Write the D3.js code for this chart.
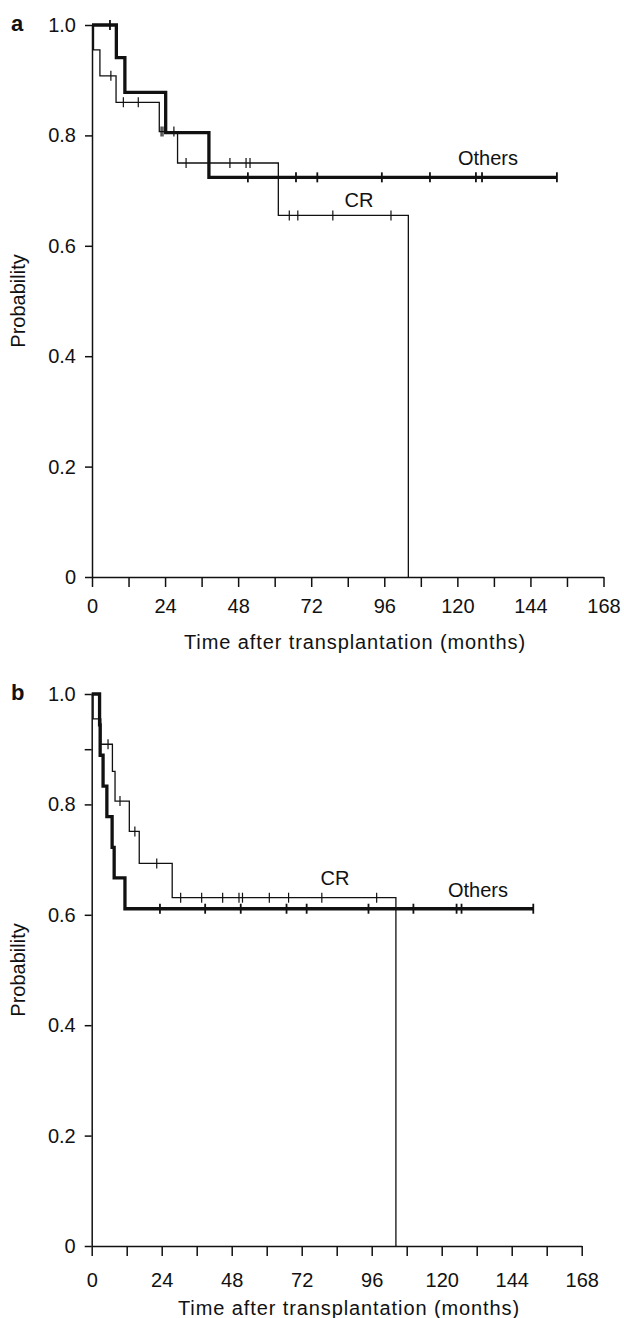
<!DOCTYPE html>
<html>
	<head>
		<meta http-equiv='Content-Type' content='text/html;charset=utf-8'/>
		<style>
		body {
			margin: 0;
			background: #ffffff;
		}
		svg {
			display: block;
			font-family: 'Liberation Sans', Arial, sans-serif;
		}
		.axis path, .axis line {
			fill: none;
			stroke: #111111;
			stroke-width: 1.5px;
		}
		.axis text {
			font-size: 20px;
			fill: #111111;
		}
		.label {
			font-size: 20px;
			fill: #111111;
		}
		.thin {
			fill: none;
			stroke: #111111;
			stroke-width: 1.3px;
		}
		.thick {
			fill: none;
			stroke: #111111;
			stroke-width: 3.3px;
		}
		</style>
	</head>

	<body>
	<script src='https://d3js.org/d3.v7.min.js'></script>

	<script>
	'use strict';

	// shared axis ticks
	const xTicks = [0, 12, 24, 36, 48, 60, 72, 84, 96, 108, 120, 132, 144, 156, 168];
	const yTicks = [0, 0.2, 0.4, 0.6, 0.8, 1.0];
	const yTicksB = [0, 0.2, 0.4, 0.6, 0.8, 0.9, 1.0];

	// panel a, CR (thin)
	const aCrTimes = [0, 0.5, 2.6, 7.9, 22.1, 28.1, 61.2, 103.9];
	const aCrSurv = [1.0, 0.955, 0.908, 0.860, 0.807, 0.750, 0.655, 0];
	const aCrCensor = [6.2, 10.3, 15.2, 22.7, 23.3, 26.9, 30.9, 45.3, 50.6, 51.9, 64.8, 67.6, 79.1, 98.2];

	// panel a, Others (thick)
	const aOtTimes = [0, 8.0, 10.8, 24.2, 38.4];
	const aOtSurv = [1.0, 0.941, 0.878, 0.805, 0.724];
	const aOtEnd = 152.7;
	const aOtCensor = [5.9, 51.2, 67, 74, 95.2, 111, 126.1, 128.1, 152.7];

	// panel b, CR (thin)
	const bCrTimes = [0, 0.5, 3.1, 7.1, 8.0, 12.9, 16.3, 27.6, 104.3];
	const bCrSurv = [1.0, 0.955, 0.909, 0.860, 0.806, 0.751, 0.693, 0.631, 0];
	const bCrCensor = [5.6, 9.7, 14.8, 22.3, 30.5, 37.7, 44.9, 50.5, 51.7, 60.9, 67.5, 78.9, 97.7];

	// panel b, Others (thick)
	const bOtTimes = [0, 2.7, 2.9, 3.9, 5.2, 7.0, 7.7, 11.4];
	const bOtSurv = [1.0, 0.944, 0.889, 0.833, 0.778, 0.722, 0.667, 0.611];
	const bOtEnd = 151.4;
	const bOtCensor = [23.4, 38.9, 51.1, 66.8, 73.7, 94.9, 110.3, 125.1, 126.8, 151.4];

	const svg = d3.select('body').append('svg')
		.attr('width', 624)
		.attr('height', 1318);

	// survival value at time t for a step curve
	function survAt(times, surv, t) {
		return surv[Math.max(0, d3.bisectRight(times, t) - 1)];
	}

	function drawCurve(g, x, y, times, surv, end, censor, cls) {
		const pts = times.map(function(t, i) { return [t, surv[i]]; });
		if (end != null) pts.push([end, surv[surv.length - 1]]);
		const line = d3.line()
			.x(function(d) { return x(d[0]); })
			.y(function(d) { return y(d[1]); })
			.curve(d3.curveStepAfter);
		g.append('path')
			.attr('class', cls)
			.attr('d', line(pts));
		g.selectAll(null)
			.data(censor)
			.enter().append('line')
			  .attr('class', cls)
			  .style('stroke-width', cls === 'thick' ? '1.8px' : '1.2px')
			  .attr('x1', function(d) { return x(d); })
			  .attr('x2', function(d) { return x(d); })
			  .attr('y1', function(d) { return y(survAt(times, surv, d)) - 5; })
			  .attr('y2', function(d) { return y(survAt(times, surv, d)) + 5; });
	}

	function drawPanel(p) {
		const x = d3.scaleLinear().domain([0, 168]).range(p.xr);
		const y = d3.scaleLinear().domain([0, 1]).range(p.yr);
		const g = svg.append('g');

		g.append('g')
			.attr('class', 'x axis')
			.attr('transform', 'translate(0,' + p.yr[0] + ')')
			.call(d3.axisBottom(x)
				.tickValues(xTicks)
				.tickSize(10)
				.tickSizeOuter(0)
				.tickPadding(p.xPad)
				.tickFormat(function(d) { return d % 24 === 0 ? d : ''; }));

		g.append('g')
			.attr('class', 'y axis')
			.attr('transform', 'translate(' + p.xr[0] + ',0)')
			.call(d3.axisLeft(y)
				.tickValues(p.yTicks)
				.tickSize(7)
				.tickSizeOuter(0)
				.tickPadding(9)
				.tickFormat(function(d) { return d === 0 ? '0' : (d === 0.9 ? '' : d.toFixed(1)); }));

		drawCurve(g, x, y, p.crTimes, p.crSurv, null, p.crCensor, 'thin');
		drawCurve(g, x, y, p.otTimes, p.otSurv, p.otEnd, p.otCensor, 'thick');

		g.append('text')
			.attr('class', 'label')
			.attr('text-anchor', 'middle')
			.style('letter-spacing', '0.9px')
			.attr('x', p.titleX)
			.attr('y', p.titleY)
			.text('Time after transplantation (months)');

		g.append('text')
			.attr('class', 'label')
			.attr('text-anchor', 'middle')
			.attr('transform', 'translate(25,' + (p.yr[0] + p.yr[1]) / 2 + ') rotate(-90)')
			.text('Probability');

		g.append('text')
			.attr('class', 'label')
			.style('font-weight', 'bold')
			.style('font-size', '22px')
			.attr('x', 11)
			.attr('y', p.yr[1] + 6)
			.text(p.name);

		g.append('text')
			.attr('class', 'label')
			.attr('text-anchor', 'middle')
			.attr('x', p.crLab[0])
			.attr('y', p.crLab[1])
			.text('CR');

		g.append('text')
			.attr('class', 'label')
			.attr('text-anchor', 'middle')
			.attr('x', p.otLab[0])
			.attr('y', p.otLab[1])
			.text('Others');
	}

	drawPanel({
		name: 'a', xr: [92, 603.5], yr: [577, 25], xPad: 12, yTicks: yTicks,
		titleX: 355, titleY: 649,
		crTimes: aCrTimes, crSurv: aCrSurv, crCensor: aCrCensor,
		otTimes: aOtTimes, otSurv: aOtSurv, otEnd: aOtEnd, otCensor: aOtCensor,
		crLab: [359, 207], otLab: [488, 165]
	});

	drawPanel({
		name: 'b', xr: [91.7, 581.7], yr: [1246, 694], xPad: 17, yTicks: yTicksB,
		titleX: 349, titleY: 1315,
		crTimes: bCrTimes, crSurv: bCrSurv, crCensor: bCrCensor,
		otTimes: bOtTimes, otSurv: bOtSurv, otEnd: bOtEnd, otCensor: bOtCensor,
		crLab: [335, 885], otLab: [478, 897]
	});
	</script>
</body>
</html>
